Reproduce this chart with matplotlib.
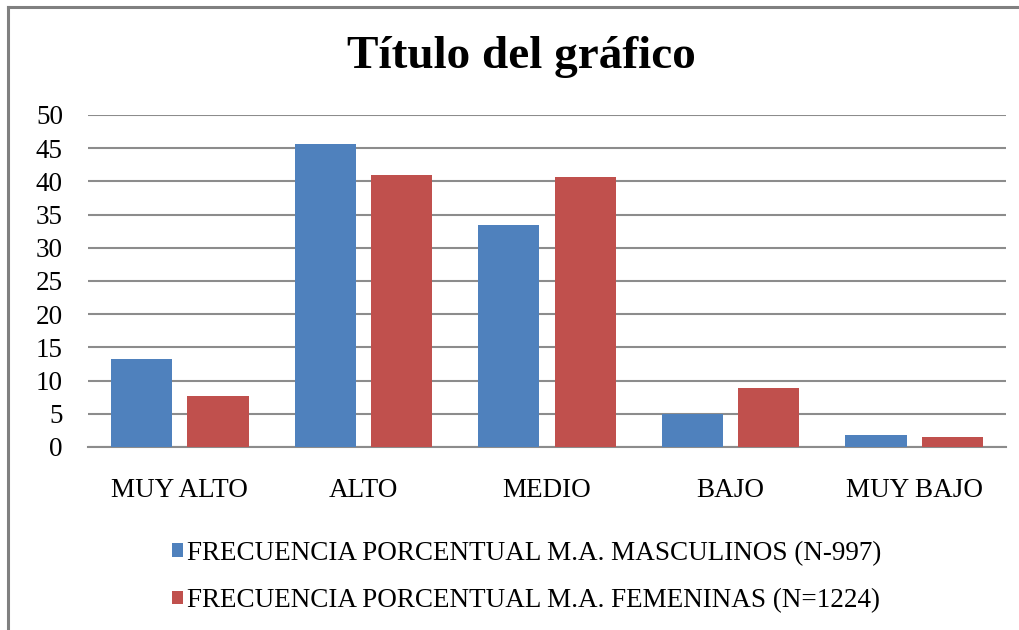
import numpy as np
import matplotlib
matplotlib.use('Agg')
import matplotlib.pyplot as plt
from matplotlib.lines import Line2D

categories = ['MUY ALTO', 'ALTO', 'MEDIO', 'BAJO', 'MUY BAJO']
masculinos = [13.3, 45.7, 33.5, 4.9, 1.8]
femeninas = [7.7, 40.9, 40.7, 8.9, 1.5]
labels = ['FRECUENCIA PORCENTUAL M.A. MASCULINOS (N-997)',
          'FRECUENCIA PORCENTUAL M.A. FEMENINAS (N=1224)']
yticks = [0, 5, 10, 15, 20, 25, 30, 35, 40, 45, 50]

plt.rcParams['font.family'] = ['Liberation Serif', 'DejaVu Serif']

fig = plt.figure(figsize=(10.19, 6.3), dpi=100)
ax = fig.add_axes([88/1019, 1 - 447/630, (1006-88)/1019, (447-115)/630])

x = np.arange(len(categories))
w = 0.333
ax.bar(x - 0.208, masculinos, w, color='#4F81BD', label=labels[0], zorder=3)
ax.bar(x + 0.208, femeninas, w, color='#C0504D', label=labels[1], zorder=3)

ax.set_xlim(-0.5, len(categories) - 0.5)
ax.set_ylim(0, 50)
ax.set_yticks(yticks)
ax.set_xticks(x)
ax.set_xticklabels(categories)
ax.tick_params(axis='both', length=0, labelsize=19.5, colors='black')
ax.tick_params(axis='y', pad=18)
ax.tick_params(axis='x', pad=22)
ax.yaxis.grid(True, color='#8c8c8c', linewidth=1.5, zorder=0)
for s in ['top', 'right', 'left']:
    ax.spines[s].set_visible(False)
ax.spines['bottom'].set_color('#8c8c8c')
ax.spines['bottom'].set_linewidth(1.5)

fig.text(521/1019, 1 - 57/630, 'Título del gráfico', ha='center', va='center',
         fontsize=34, fontweight='bold')

leg = fig.legend(loc='upper left', bbox_to_anchor=(172/1019, 1 - 541/630),
                 frameon=False, fontsize=19.5, handlelength=0.4, handleheight=0.4,
                 handletextpad=0.15, labelspacing=0.82, borderpad=0, borderaxespad=0)

# outer frame (left and top edges visible in the reference)
fig.add_artist(Line2D([8/1019, 8/1019], [0, 1 - 7/630], transform=fig.transFigure,
                      color='#808080', linewidth=2.2))
fig.add_artist(Line2D([8/1019, 1], [1 - 7/630, 1 - 7/630], transform=fig.transFigure,
                      color='#808080', linewidth=2.2))

fig.savefig('out.png', dpi=100)
